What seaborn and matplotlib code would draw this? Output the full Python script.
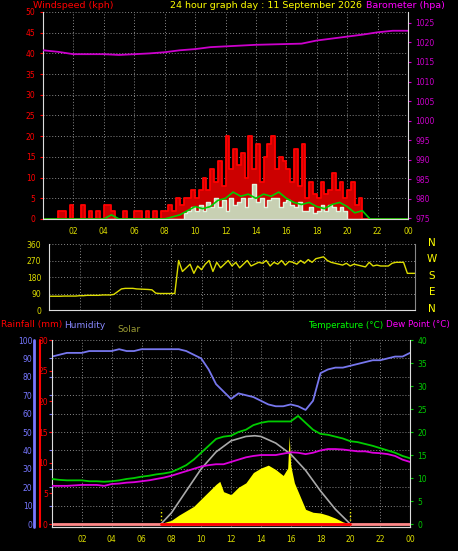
import numpy as np
import pandas as pd
import matplotlib
matplotlib.use("Agg")
import matplotlib.pyplot as plt
import seaborn as sns

# ---------------- data ----------------
hours_half = np.arange(0, 24.01, 0.5)
hours_q = np.arange(0, 24.01, 0.25)
hours_1 = np.arange(0, 25, 1)

barometer = [1018, 1017.6, 1017, 1017, 1017, 1016.8, 1017, 1017.2, 1017.5, 1018, 1018.3, 1018.8,
             1019, 1019.2, 1019.4, 1019.5, 1019.6, 1019.7, 1020.5, 1021, 1021.5, 1022, 1022.6, 1023, 1023]

gust = [0, 0, 0, 0,  2, 2, 0, 3.5,  0, 0, 3.5, 0,  2, 0, 2, 0,  3.5, 3.5, 2, 0,  0, 2, 0, 0,
        2, 2, 0, 2,  0, 2, 0, 2,  2, 3.5, 2, 5,  3.5, 5, 5, 7,  5, 7, 10, 7,  12, 9, 14, 8,
        20, 12, 17, 13,  16, 10, 20, 12,  18, 9, 15, 18,  20, 12, 15, 14,  12, 9, 17, 8,
        18, 5, 9, 6,  5, 9, 6, 7,  11, 7, 9, 5,  7, 9, 3.5, 5,  0, 0, 0, 0,  0, 0, 0, 0,  0, 0, 0, 0, 0]

avg_wind = [0, 0, 0, 0, 0, 0, 0, 0, 0, 1, 0, 0, 0, 0, 0, 0, 0, 0.5,
            1, 2, 3, 2.5, 3, 4.5, 5, 6.5, 5.5, 6, 5, 6, 5.5, 6.5, 5, 4, 3.5, 4,
            3, 2.5, 3.5, 4, 3, 1.5, 2, 0, 0, 0, 0, 0, 0]

light_wind = [0] * 37 + [1.5, 2, 3, 2,  3.5, 2, 4, 3,  5, 3, 4.5, 2,  5, 3.5, 4, 5,
              3, 5, 8.5, 4,  5, 3, 4.5, 5,  5, 3, 4, 4.5,  3.5, 3, 4, 2,  2, 3, 1.5, 2,
              3.5, 2, 3.5, 3,  2, 3, 2, 0] + [0] * 16

direction = [75, 75, 75, 75, 76, 76, 76, 76, 78, 78, 80, 80, 80, 80, 82, 82, 82, 85, 100, 115,
             118, 118, 118, 115, 114, 113, 112, 110, 92, 90, 90, 90, 90, 90, 270, 210, 230, 250, 200, 240,
             220, 250, 270, 210, 260, 230, 250, 270, 240, 260, 230, 250, 270, 240, 250, 260, 255, 270, 240, 260,
             250, 270, 245, 265, 260, 250, 270, 255, 275, 260, 280, 285, 290, 270, 260, 255, 250, 245, 255, 240,
             250, 245, 240, 235, 260, 240, 245, 240, 240, 240, 255, 260, 260, 260, 200, 200, 200]

humidity = [91, 92, 93, 93, 93, 94, 94, 94, 94, 95, 94, 94, 95, 95, 95, 95, 95, 95, 94, 92, 90, 84, 76, 72, 68,
            71, 70, 69, 67, 65, 64, 64, 65, 64, 62, 67, 82, 84, 85, 85, 86, 87, 88, 89, 89, 90, 91, 91, 93]

temperature = [9.8, 9.6, 9.5, 9.5, 9.5, 9.3, 9.3, 9.2, 9.3, 9.5, 9.8, 10, 10.3, 10.5, 10.8, 11, 11.3, 12,
               12.8, 14, 15.5, 17, 18.5, 19, 19.2, 20, 20.5, 21.5, 22, 22.3, 22.3, 22.3, 22.3, 23.5, 22, 20.5,
               19.6, 19.4, 19, 18.6, 18, 17.8, 17.4, 17, 16.5, 16, 15.5, 14.8, 14.3]

dewpoint = [8.3, 8.3, 8.3, 8.4, 8.5, 8.5, 8.5, 8.3, 8.7, 8.8, 9, 9.1, 9.3, 9.5, 9.8, 10.1, 10.5, 11,
            11.5, 12, 12.5, 12.8, 13, 13, 13.5, 14, 14.5, 14.8, 15, 15, 15, 15.3, 15.6, 15.5, 15.2, 15.5,
            16, 16.3, 16.3, 16.2, 16, 15.8, 15.8, 15.5, 15.4, 15.2, 14.8, 14, 13.5]

solar_t = [7.3, 7.5, 8, 8.5, 9, 9.5, 10, 10.5, 11, 11.25, 11.5, 12, 12.5, 13, 13.5, 14, 14.5, 15, 15.5,
           15.8, 15.9, 16.0, 16.25, 16.5, 17, 17.5, 18, 18.5, 19, 19.5, 20]
solar = [0, 10, 25, 60, 90, 120, 170, 220, 270, 290, 220, 200, 250, 280, 350, 380, 400, 370, 330,
         380, 600, 400, 280, 220, 100, 80, 75, 60, 40, 15, 0]
solar_max_t = [7.3, 8, 9, 10, 11, 12, 13, 13.6, 14, 15, 16, 17, 18, 19, 20]
solar_max = [0, 75, 225, 375, 490, 565, 595, 600, 595, 550, 475, 365, 225, 100, 0]

x_ticks = [2, 4, 6, 8, 10, 12, 14, 16, 18, 20, 22, 24]
x_labels = ["02", "04", "06", "08", "10", "12", "14", "16", "18", "20", "22", "00"]

# ---------------- style ----------------
sns.set_style("dark")
plt.rcParams['font.family'] = ['DejaVu Sans']
W, H = 458, 551
fig = plt.figure(figsize=(W / 100, H / 100), dpi=100, facecolor="black")

def ax_px(l, t, r, b):
    return fig.add_axes([l / W, 1 - b / H, (r - l) / W, (b - t) / H])

def style(ax, ytickcolor):
    ax.set_facecolor("black")
    for s in ax.spines.values():
        s.set_color("#dddddd")
    ax.spines['top'].set_visible(False)
    ax.spines['right'].set_visible(False)
    ax.grid(True, color="#888888", linestyle=(0, (1, 2)), linewidth=0.7)
    ax.tick_params(axis='y', colors=ytickcolor, labelsize=5.5, length=2)
    ax.tick_params(axis='x', colors="#dddd00", labelsize=5.5, length=2)
    ax.set_xlim(0, 24)
    ax.set_xticks(x_ticks)
    ax.set_xlabel(""); ax.set_ylabel("")

# ---------------- panel 1 ----------------
ax1 = ax_px(43, 12, 408, 219)
style(ax1, "red")
ax1.fill_between(hours_q, gust, step="post", color="#cc0000", lw=0)
ax1.step(hours_q, gust, where="post", color="red", lw=1.3)
ax1.fill_between(hours_q, light_wind, step="post", color="#c8e8c8", alpha=0.9, lw=0)
ax1.step(hours_q, light_wind, where="post", color="#e0f4e0", lw=1.0)
sns.lineplot(x=hours_half, y=avg_wind, ax=ax1, color="#00cc00", lw=1.2)
ax1.set_ylim(0, 50)
ax1.set_yticks(range(0, 51, 5))
ax1.set_xticklabels(x_labels)
ax1.set_xlabel(""); ax1.set_ylabel("")
ax1b = ax1.twinx()
sns.lineplot(x=hours_1, y=barometer, ax=ax1b, color="#cc00cc", lw=1.3)
ax1b.set_ylim(974.8, 1027.8)
ax1b.set_yticks(range(975, 1026, 5))
ax1b.tick_params(axis='y', colors="#cc00cc", labelsize=5.5, length=2)
ax1b.set_ylabel("")
for s in ax1b.spines.values():
    s.set_visible(False)
ax1b.spines['right'].set_visible(True); ax1b.spines['right'].set_color("#dddddd")

fig.text(33 / W, 1 - 6 / H, "Windspeed (kph)", color="red", fontsize=6.8, va="center")
fig.text(170 / W, 1 - 6 / H, "24 hour graph day : 11 September 2026", color="yellow", fontsize=6.8, va="center")
fig.text(366 / W, 1 - 6 / H, "Barometer (hpa)", color="#ff00ff", fontsize=6.8, va="center")

# ---------------- panel 2 ----------------
ax2 = ax_px(49, 244, 415, 310)
style(ax2, "#dddd00")
sns.lineplot(x=hours_q, y=direction, ax=ax2, color="#dddd00", lw=1.0)
ax2.set_ylim(0, 360)
ax2.set_yticks([0, 90, 180, 270, 360])
ax2.set_xticklabels([])
ax2.set_xlabel(""); ax2.set_ylabel("")
ax2.spines['right'].set_visible(True); ax2.spines['right'].set_color("#888888")
for lab, yy in zip(["N", "W", "S", "E", "N"], [243, 259, 276, 292, 309]):
    fig.text(432 / W, 1 - yy / H, lab, color="yellow", fontsize=7.5, ha="center", va="center")

fig.text(1 / W, 1 - 325 / H, "Rainfall (mm)", color="red", fontsize=6.5, va="center")
fig.text(64 / W, 1 - 325 / H, "Humidity", color="#8888ff", fontsize=6.5, va="center")
fig.text(117 / W, 1 - 330 / H, "Solar", color="#999933", fontsize=6.5, va="center")
fig.text(308 / W, 1 - 325 / H, "Temperature (°C)", color="#00ff00", fontsize=6.3, va="center")
fig.text(386 / W, 1 - 325 / H, "Dew Point (°C)", color="#ff00ff", fontsize=6.3, va="center")

# ---------------- panel 3 ----------------
ax3 = ax_px(52, 340, 410, 527)
style(ax3, "#7777ff")
ax3.set_ylim(-1.6, 100)
ax3.set_yticks(range(0, 101, 10))
ax3.set_xticklabels(x_labels)
ax3.tick_params(axis='y', pad=12)
ax3.spines['left'].set_visible(False)

axs = ax3.twinx()
axs.set_ylim(-20, 1250)
axs.fill_between(solar_t, solar, color="yellow", lw=0)
sns.lineplot(x=solar_max_t, y=solar_max, ax=axs, color="#aaaaaa", lw=1.2)
for xv in [7.3, 20]:
    axs.plot([xv, xv], [0, 100], color="yellow", ls=":", lw=1)
axs.set_yticks([]); axs.set_ylabel("")
for s in axs.spines.values():
    s.set_visible(False)

ax3h = ax3.twinx()
ax3h.set_ylim(-1.6, 100)
sns.lineplot(x=hours_half, y=humidity, ax=ax3h, color="#7777ee", lw=1.3)
ax3h.set_yticks([]); ax3h.set_ylabel("")
for s in ax3h.spines.values():
    s.set_visible(False)

axr = ax3.twinx()
axr.yaxis.tick_left()
axr.set_ylim(-0.48, 30)
axr.plot([0, 24], [0, 0], color="#ff8888", lw=2)
axr.plot([7.3, 20], [0, 0], color="red", lw=2)
axr.set_yticks(range(0, 31, 5))
axr.tick_params(axis='y', colors="red", labelsize=5.5, length=2, pad=1)
axr.set_ylabel("")
for s in axr.spines.values():
    s.set_visible(False)
axr.spines['left'].set_visible(True); axr.spines['left'].set_color("#dddddd")

fig.add_artist(plt.Line2D([34 / W, 34 / W], [1 - 527 / H, 1 - 340 / H], color="#7777ff", lw=2))
fig.add_artist(plt.Line2D([40 / W, 40 / W], [1 - 527 / H, 1 - 340 / H], color="red", lw=1.5))

axt = ax3.twinx()
axt.set_ylim(-0.64, 40)
sns.lineplot(x=hours_half, y=dewpoint, ax=axt, color="#dd00dd", lw=1.3)
sns.lineplot(x=hours_half, y=temperature, ax=axt, color="#00cc00", lw=1.3)
axt.set_yticks(range(0, 41, 5))
axt.tick_params(axis='y', colors="#00cc00", labelsize=5.5, length=2)
axt.set_ylabel("")
for s in axt.spines.values():
    s.set_visible(False)
axt.spines['right'].set_visible(True); axt.spines['right'].set_color("#dddddd")
axt.spines['bottom'].set_visible(True); axt.spines['bottom'].set_color("#dddddd")

fig.savefig("out.png", dpi=100, facecolor="black")
